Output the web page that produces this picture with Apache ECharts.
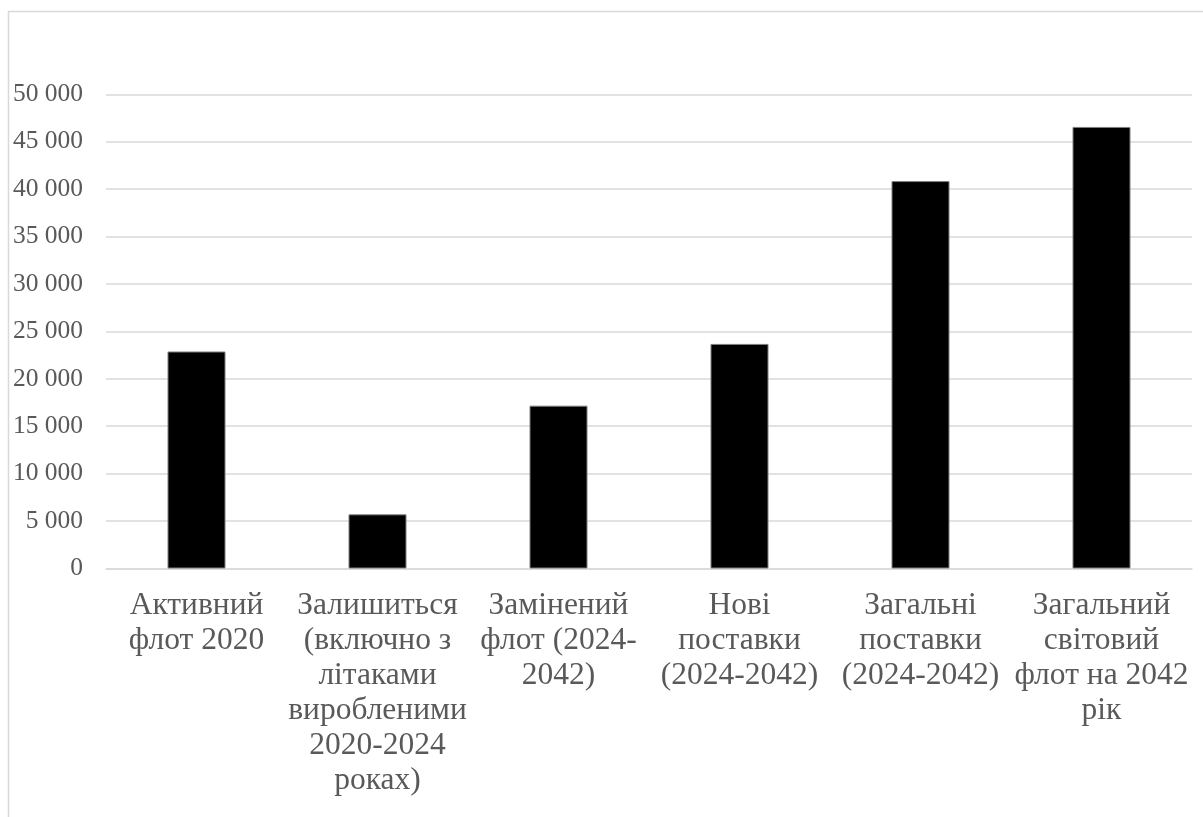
<!DOCTYPE html>
<html>
<head>
<meta charset="utf-8">
<script src="https://cdn.jsdelivr.net/npm/echarts@6/dist/echarts.min.js"></script>
<style>
  html, body { margin: 0; padding: 0; background: #fff; }
  #chart { width: 1203px; height: 817px; }
</style>
</head>
<body>
<div id="chart"></div>
<script>
// Category labels (line breaks as they wrap under each bar)
const categories = [
  'Активний\nфлот 2020',
  'Залишиться\n(включно з\nлітаками\nвиробленими\n2020-2024\nроках)',
  'Замінений\nфлот (2024-\n2042)',
  'Нові\nпоставки\n(2024-2042)',
  'Загальні\nпоставки\n(2024-2042)',
  'Загальний\nсвітовий\nфлот на 2042\nрік'
];

// Number of aircraft
const fleetValues = [22880, 5710, 17170, 23680, 40850, 46560];

// Value axis range
const yMin = 0;
const yMax = 50000;
const yStep = 5000;

// Thousands grouped with a space: 50 000
function groupThousands(v) {
  return String(v).replace(/\B(?=(\d{3})+(?!\d))/g, ' ');
}

const chart = echarts.init(document.getElementById('chart'), null, { renderer: 'canvas' });

chart.setOption({
  backgroundColor: '#ffffff',
  animation: false,
  graphic: [{
    type: 'rect',
    shape: { x: 8.5, y: 11.5, width: 1400, height: 1000 },
    style: { fill: 'none', stroke: '#d9d9d9', lineWidth: 1.5 },
    silent: true,
    z: -1
  }],
  grid: {
    left: 106,
    right: 11,
    top: 94.3,
    bottom: 248.5,
    containLabel: false
  },
  xAxis: {
    type: 'category',
    data: categories,
    axisTick: { show: false },
    axisLine: { show: true, lineStyle: { color: '#d9d9d9', width: 1.5 } },
    axisLabel: {
      interval: 0,
      hideOverlap: false,
      margin: 20,
      color: '#595959',
      fontFamily: '"Liberation Serif", "Times New Roman", serif',
      fontSize: 31.5,
      lineHeight: 35,
      align: 'center'
    }
  },
  yAxis: {
    type: 'value',
    min: yMin,
    max: yMax,
    interval: yStep,
    axisLine: { show: false },
    axisTick: { show: false },
    splitLine: { lineStyle: { color: '#d9d9d9', width: 1.5 } },
    axisLabel: {
      margin: 23,
      color: '#595959',
      fontFamily: '"Liberation Serif", "Times New Roman", serif',
      fontSize: 25.5,
      formatter: groupThousands
    }
  },
  series: [{
    type: 'bar',
    data: fleetValues,
    barWidth: 58,
    itemStyle: {
      color: '#000000',
      borderColor: '#7f7f7f',
      borderWidth: 1
    }
  }]
});
</script>
</body>
</html>
